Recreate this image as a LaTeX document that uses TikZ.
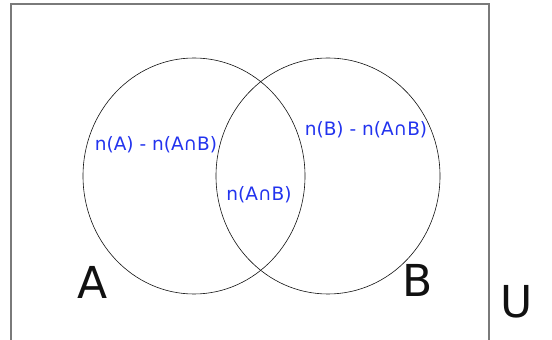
\documentclass[tikz,border=0pt]{standalone}
\usepackage{fontspec}
\setmainfont{DejaVu Sans}
\usetikzlibrary{positioning}
\definecolor{cBlue}{HTML}{2233EE}
\definecolor{cFrame}{HTML}{7A7A7A}
\definecolor{cInk}{HTML}{111111}
\tikzset{
  setc/.style ={draw=cInk,line width=0.6pt},
  frame/.style={draw=cFrame,line width=1.1pt},
  lbl/.style  ={text=cBlue,font=\fontsize{18.5}{22}\selectfont,inner sep=0pt},
  big/.style  ={text=cInk,font=\fontsize{44}{48}\selectfont,inner sep=0pt},
}
\begin{document}
\begin{tikzpicture}[x=1pt,y=1pt]
\useasboundingbox (0,0) rectangle (552,340);
% universe
\draw[frame] (11,-10) rectangle (489,336);
% the two sets
\draw[setc] (194,164) ellipse [x radius=111,y radius=118];
\draw[setc] (328,164) ellipse [x radius=112,y radius=118];
% region counts
\node[lbl] (onlyA) at (156,195) {n(A) - n(A∩B)};
\node[lbl] (onlyB) at (366,210) {n(B) - n(A∩B)};
\node[lbl] (both)  at (259,145) {n(A∩B)};
% set names
\node[big] (A) at (93,58) {A};
\node[big] (B) at (418,60) {B};
\node[big] (U) at (517,38) {U};
\end{tikzpicture}
\end{document}
